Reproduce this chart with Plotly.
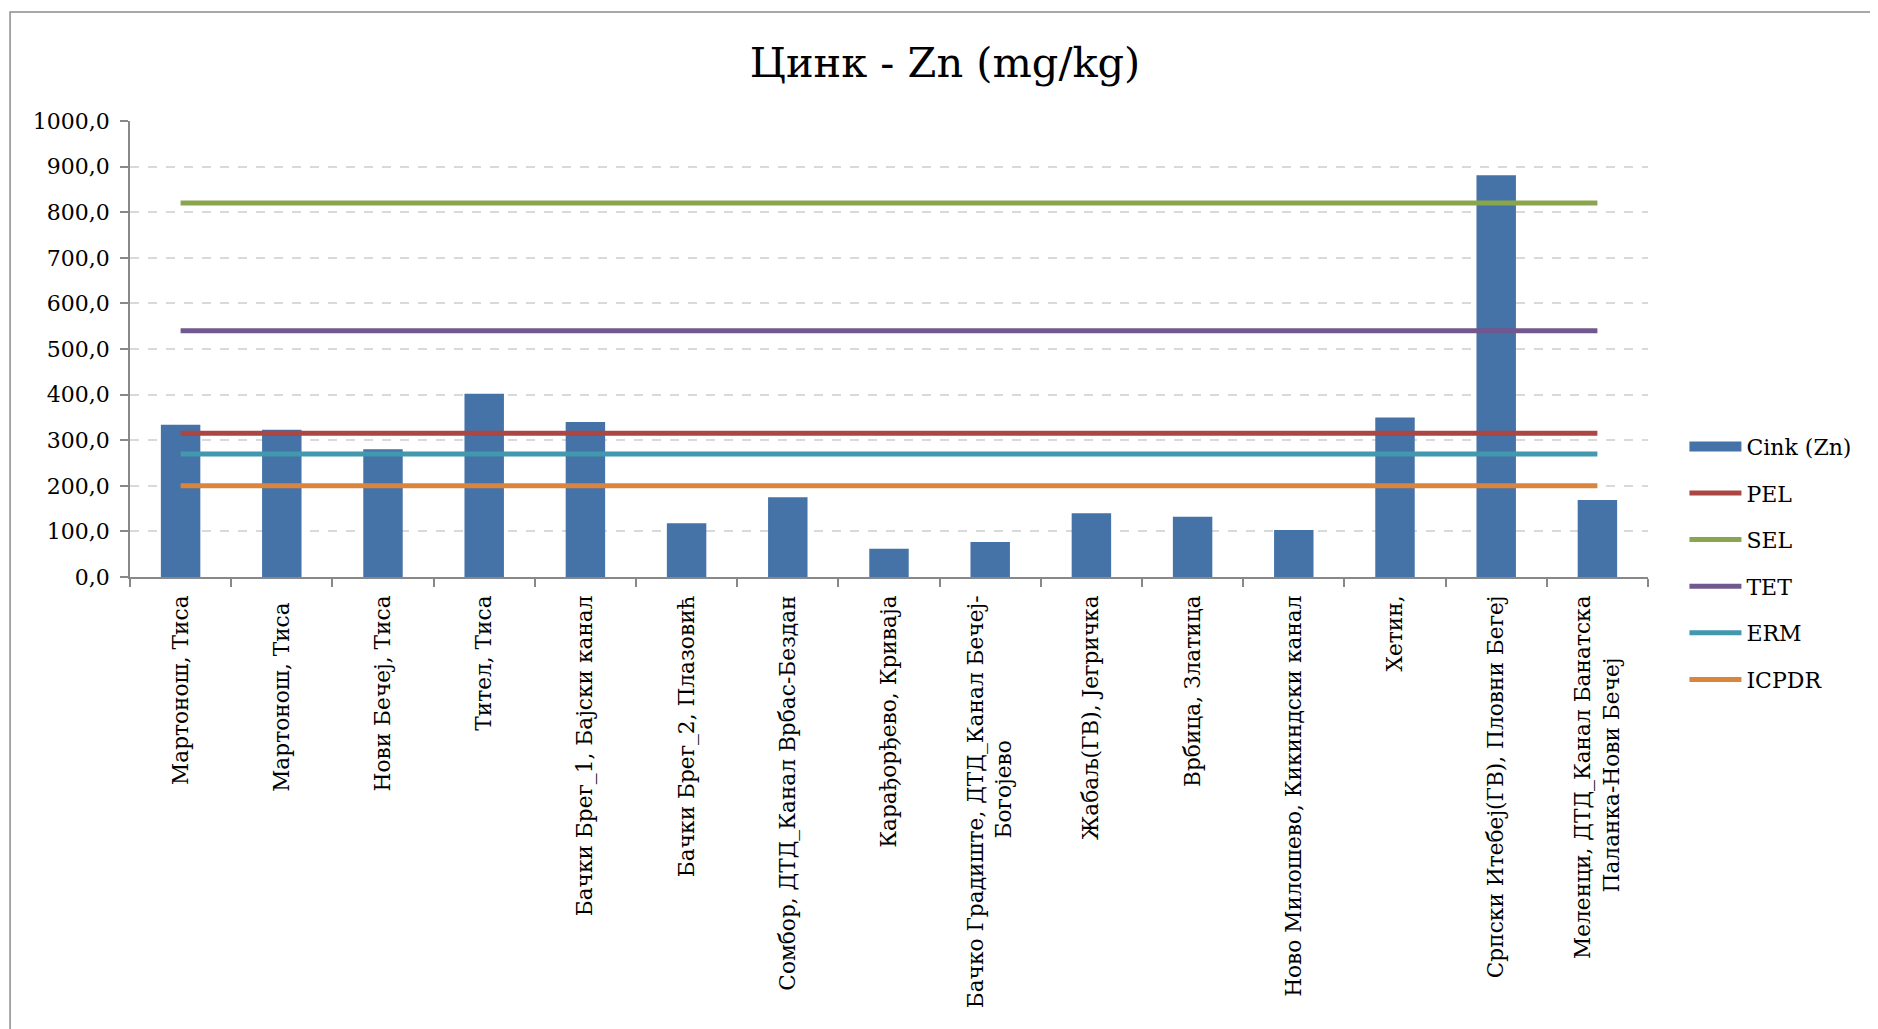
import plotly.graph_objects as go

NB = "\u00a0"
categories = [
    "Мартонош, Тиса",
    "Мартонош, Тиса ",
    "Нови Бечеј, Тиса",
    "Тител, Тиса",
    "Бачки Брег_1, Бајски канал",
    "Бачки Брег_2, Плазовић",
    "Сомбор, ДТД_Канал Врбас-Бездан",
    "Карађорђево, Криваја",
    "Бачко Градиште, ДТД_Канал Бечеј-<br>Богојево" + NB * 21,
    "Жабаљ(ГВ), Јегричка",
    "Врбица, Златица",
    "Ново Милошево, Кикиндски канал",
    "Хетин,",
    "Српски Итебеј(ГВ), Пловни Бегеј",
    "Меленци, ДТД_Канал Банатска<br>Паланка-Нови Бечеј" + NB * 9,
]
zn_values = [334, 323, 280, 402, 340, 118, 175, 62, 77, 140, 132, 103, 350, 881, 169]
PEL = [315] * 15
SEL = [820] * 15
TET = [540] * 15
ERM = [270] * 15
ICPDR = [200] * 15

y_ticks = [0, 100, 200, 300, 400, 500, 600, 700, 800, 900, 1000]

FONT = "DejaVu Serif"
BAR_COLOR = "#4572A7"

fig = go.Figure()
fig.add_trace(go.Bar(
    x=categories, y=zn_values, name="Cink (Zn)",
    marker=dict(color=BAR_COLOR, line=dict(width=0)),
    showlegend=False,
))
# legend entry for the bar series (wide rectangle swatch)
fig.add_trace(go.Scatter(
    x=[None], y=[None], name="Cink (Zn)", mode="lines",
    line=dict(color=BAR_COLOR, width=16), legendgroup="a",
))
lines = [
    ("PEL", PEL, "#AA4643"),
    ("SEL", SEL, "#89A54E"),
    ("TET", TET, "#71588F"),
    ("ERM", ERM, "#4198AF"),
    ("ICPDR", ICPDR, "#DB843D"),
]
for i, (name, vals, col) in enumerate(lines):
    fig.add_trace(go.Scatter(
        x=categories, y=vals, name=name, mode="lines",
        line=dict(color=col, width=5),
        legendgroup="g%d" % i,
    ))

fig.update_layout(
    width=1870, height=1021,
    paper_bgcolor="white", plot_bgcolor="white",
    margin=dict(l=122, r=230, t=113, b=452, autoexpand=False),
    bargap=0.61,
    separators=", ",
    font=dict(family=FONT, color="black"),
    title=dict(text="Цинк - Zn (mg/kg)", x=(945 - 8) / 1870, xanchor="center",
               y=1 - 54 / 1021, yanchor="middle",
               font=dict(family=FONT, size=41.5, color="black")),
    showlegend=True,
    legend=dict(x=1.024, y=0.332, xanchor="left", yanchor="top",
                font=dict(family=FONT, size=22, color="black"),
                traceorder="grouped", tracegroupgap=15,
                itemwidth=52, bgcolor="rgba(0,0,0,0)"),
    shapes=[dict(type="rect", xref="paper", yref="paper",
                 x0=-0.079, x1=1.153, y0=-1.004, y1=1.239,
                 line=dict(color="#8C8C8C", width=1.5), layer="below")],
)
fig.update_xaxes(
    type="category", tickangle=-90,
    showline=True, linecolor="#888888", linewidth=1.5,
    ticks="outside", ticklen=8, tickcolor="#888888", tickwidth=1.5,
    tickson="boundaries", ticklabelstandoff=8,
    showgrid=False,
    tickfont=dict(family=FONT, size=21.7, color="black"),
)
fig.update_yaxes(
    range=[0, 1000], tickvals=y_ticks, tickformat=".1f",
    showline=True, linecolor="#888888", linewidth=1.5,
    ticks="outside", ticklen=8, tickcolor="#888888", tickwidth=1.5,
    ticklabelstandoff=6,
    showgrid=True, gridcolor="#D9D9D9", griddash="dash", gridwidth=1.5,
    zeroline=False,
    tickfont=dict(family=FONT, size=22, color="black"),
)

fig.write_html("out.html")
